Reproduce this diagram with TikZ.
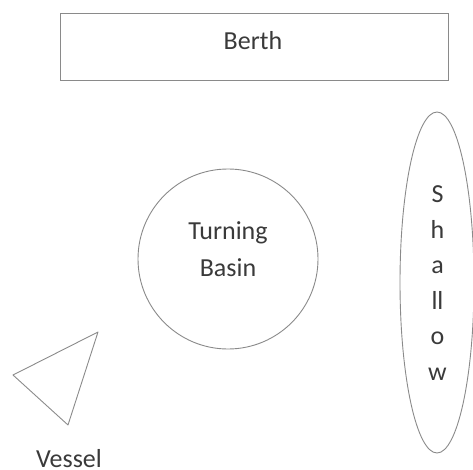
\documentclass[tikz,border=0pt]{standalone}
\usepackage{fontspec}
\setmainfont{Carlito}
\usetikzlibrary{shapes.geometric}
\definecolor{linec}{HTML}{8A8A8A}
\definecolor{textc}{HTML}{3A3A3A}
\begin{document}
\begin{tikzpicture}[x=1pt,y=-1pt,
  shape line/.style={draw=linec,line width=0.9pt},
  lbl/.style={text=textc,font=\fontsize{26}{37}\selectfont,inner sep=0pt,align=center}]
\useasboundingbox (0,0) rectangle (473,470);
\node[shape line,rectangle,minimum width=388pt,minimum height=67pt,anchor=center] (berth) at (254,46.5) {};
\node[lbl,anchor=base] (berthtxt) at (253,50) {Berth};
\node[shape line,circle,minimum size=180pt,inner sep=0pt] (basin) at (228,259) {};
\node[lbl] (basintxt) at (228,249) {Turning\\Basin};
\node[shape line,ellipse,minimum width=74pt,minimum height=341pt,inner sep=0pt] (shallow) at (437,282.5) {};
\node[lbl,font=\fontsize{26}{35.5}\selectfont] (shallowtxt) at (437.5,283) {S\\h\\a\\ll\\o\\w};
\coordinate (v1) at (98,332);
\coordinate (v2) at (13,375);
\coordinate (v3) at (68,425);
\draw[shape line,line join=round] (v1) -- (v2) -- (v3) -- cycle;
\node[lbl,anchor=base] (vessel) at (69,467) {Vessel};
\end{tikzpicture}
\end{document}
